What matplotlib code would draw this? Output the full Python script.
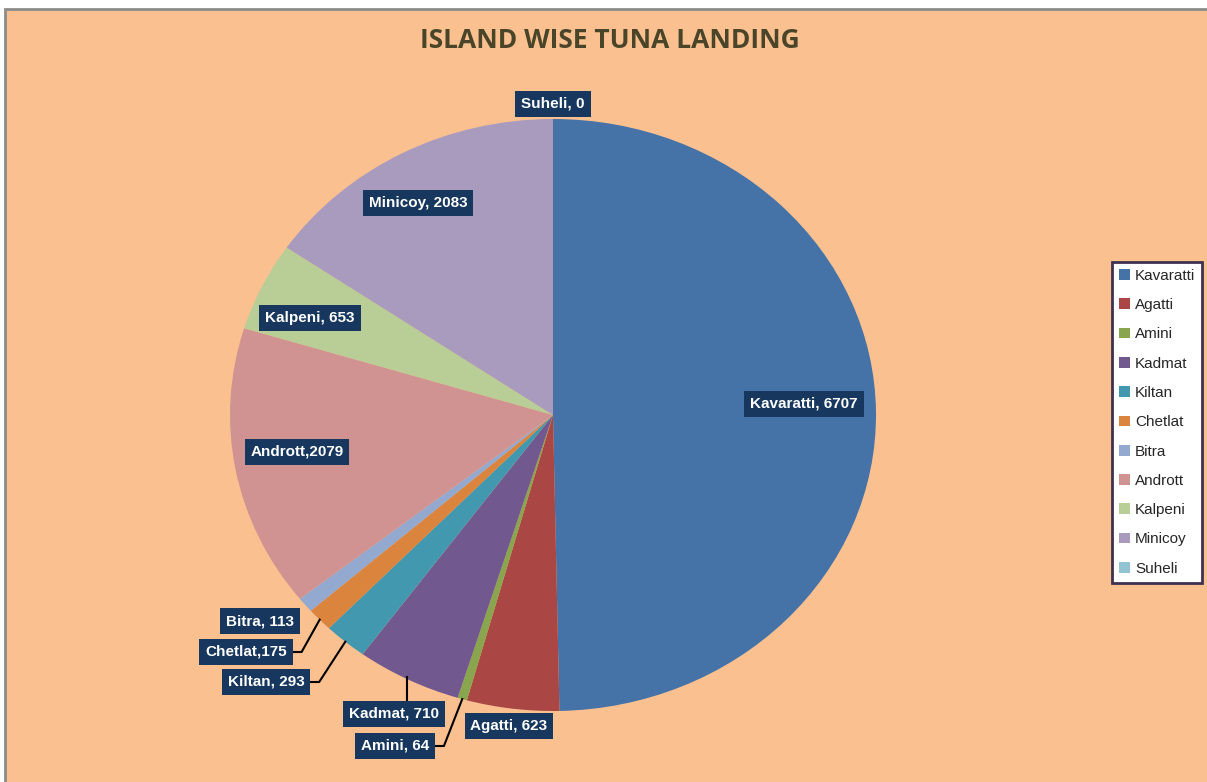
import matplotlib
matplotlib.use("Agg")
from matplotlib import pyplot as plt
from matplotlib.patches import Rectangle
import numpy as np

# data
islands = ['Kavaratti', 'Agatti', 'Amini', 'Kadmat', 'Kiltan', 'Chetlat',
           'Bitra', 'Andrott', 'Kalpeni', 'Minicoy', 'Suheli']
landing = [6707, 623, 64, 710, 293, 175, 113, 2079, 653, 2083, 0]
label_text = ['Kavaratti, 6707', 'Agatti, 623', 'Amini, 64', 'Kadmat, 710',
              'Kiltan, 293', 'Chetlat,175', 'Bitra, 113', 'Andrott,2079',
              'Kalpeni, 653', 'Minicoy, 2083', 'Suheli, 0']
colors = ['#4572A7', '#AA4643', '#89A54E', '#71588F', '#4198AF', '#DB843D',
          '#93A9CF', '#D19392', '#B9CD96', '#A99BBD', '#92C4D4']

W, H = 1207, 782
cx, cy, rx, ry = 553, 415, 323, 296

# label box centres in pixels (layout)
label_px = [(804, 404), (509, 726), (395, 746), (394, 714), (266, 682),
            (246, 652), (260, 621), (297, 452), (310, 318), (418, 203),
            (553, 104)]
# labels with a leader line
leaders = {'Amini', 'Kadmat', 'Kiltan', 'Chetlat'}


def to_data(px, py):
    return (px - cx) / rx, (cy - py) / ry


fig = plt.figure(figsize=(W / 100, H / 100), dpi=100)
fig.patch.set_facecolor('white')
bg = Rectangle((5 / W, -0.05), 1.1, 1 - 9 / H + 0.05, transform=fig.transFigure,
               facecolor='#FAC090', edgecolor='#8C8C8C', linewidth=2, zorder=-10)
fig.patches.append(bg)

ax = fig.add_axes([(cx - rx) / W, (H - cy - ry) / H, 2 * rx / W, 2 * ry / H])
ax.set_zorder(1)
wedges, _ = ax.pie(landing, colors=colors, startangle=90, counterclock=False,
                   radius=1, wedgeprops=dict(linewidth=0))
ax.set_aspect('auto')
ax.set_xlim(-1, 1)
ax.set_ylim(-1, 1)
ax.axis('off')

texts = []
for w, name, txt, (px, py) in zip(wedges, islands, label_text, label_px):
    lx, ly = to_data(px, py)
    t = ax.text(lx, ly, txt, ha='center', va='center', color='white',
                fontsize=11, fontweight='bold', family='Liberation Sans',
                bbox=dict(boxstyle='square,pad=0.38', facecolor='#17375E', edgecolor='none'),
                zorder=5, clip_on=False)
    texts.append(t)

fig.canvas.draw()
inv = ax.transData.inverted()
for w, name, t in zip(wedges, islands, texts):
    if name not in leaders:
        continue
    bb = t.get_bbox_patch().get_window_extent()
    ang = np.deg2rad((w.theta1 + w.theta2) / 2)
    ex, ey = np.cos(ang), np.sin(ang)
    if name == 'Kadmat':
        topx, topy = inv.transform((bb.x0 + bb.width * 0.63, bb.y1))
        ax.plot([topx, topx], [ey * 0.99, topy], color='black', lw=1.5, zorder=4, clip_on=False)
    else:
        rx0, ry0 = inv.transform((bb.x1, (bb.y0 + bb.y1) / 2))
        kx, _ = inv.transform((bb.x1 + 9, 0))
        ax.plot([ex, kx, rx0], [ey, ry0, ry0], color='black', lw=1.5,
                zorder=4, clip_on=False)

fig.text(0.505, 1 - 40 / H, 'ISLAND WISE TUNA LANDING', ha='center', va='center',
         fontsize=19, fontweight='bold', family='Open Sans', color='#4A4529')

leg = fig.legend(wedges, islands, loc='upper left', bbox_to_anchor=(1112 / W, 1 - 262 / H),
                 frameon=True, fancybox=False, handlelength=0.7,
                 handleheight=0.7, handletextpad=0.35, labelspacing=1.0,
                 borderpad=0.45, borderaxespad=0, framealpha=1,
                 prop={'family': 'Liberation Sans', 'size': 11})
leg.get_frame().set_edgecolor('#3F3151')
leg.get_frame().set_facecolor('white')
leg.get_frame().set_linewidth(2)
for t in leg.get_texts():
    t.set_color('#262626')

fig.savefig('out.png', dpi=100)
